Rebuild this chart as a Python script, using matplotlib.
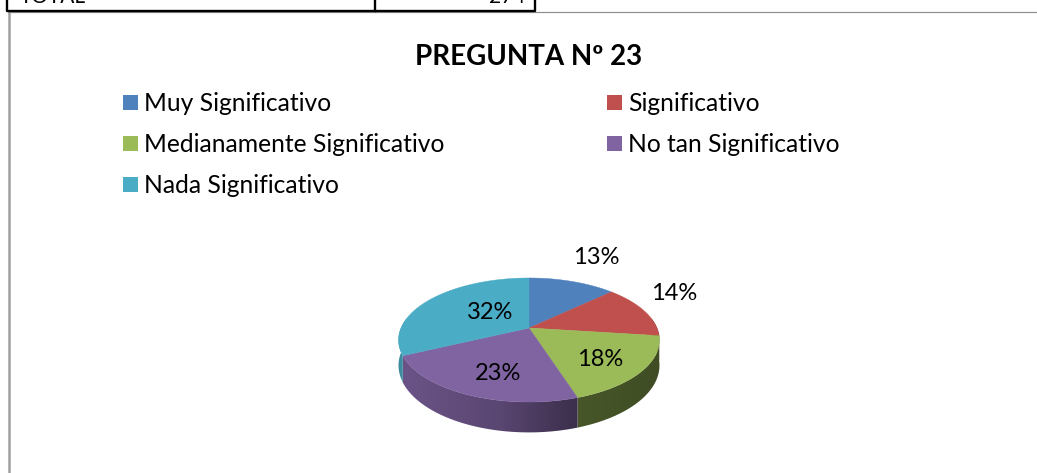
#!/usr/bin/env python3
"""Pregunta 23: torta en pseudo 3D, con perspectiva y pared lateral."""

import numpy as np

import matplotlib
matplotlib.use("Agg")
import matplotlib.pyplot as plt
from matplotlib.colors import to_rgb
from matplotlib.patches import Polygon, Rectangle

plt.rcParams["font.family"] = ["Lato", "DejaVu Sans"]

TITLE = "PREGUNTA Nº 23"
categories = ["Muy Significativo", "Significativo", "Medianamente Significativo",
              "No tan Significativo", "Nada Significativo"]
percents = [13, 14, 18, 23, 32]
colors = ["#4f81bd", "#c0504d", "#9bbb59", "#8064a2", "#4bacc6"]

# posiciones en pixeles de la imagen
label_pos = [(596, 257.5), (674, 293.5), (600, 359.5), (498, 373.5), (490, 312.5)]
legend_pos = [(123, 102.5), (607, 102.5), (123, 143.5), (607, 143.5), (123, 184.5)]

# modelo de la perspectiva
CX, CY = 529, 328
B, A, P = 128.0, 59.7, 0.1935
DEPTH = 24.5


def rim(theta, drop=0.0):
    """Borde de la torta; theta en radianes, horario desde arriba."""
    w = 1 + P * np.cos(theta)
    x = CX + B * np.sin(theta) / w
    y = CY - A * np.cos(theta) / w + drop / w
    return x, y


fig = plt.figure(figsize=(10.37, 4.73), dpi=100)
ax = fig.add_axes([0, 0, 1, 1])
ax.set_xlim(0, 1037)
ax.set_ylim(473, 0)
ax.axis("off")

# marco de la hoja y resto de la tabla
ax.plot([8.7, 8.7], [473, 12], color="#a0a0a0", lw=1.8)
ax.plot([8, 1037], [12.5, 12.5], color="#909090", lw=0.9)
ax.plot([7, 7, 535, 535], [0, 11, 11, 0], color="black", lw=1.7)
ax.plot([375, 375], [0, 11], color="black", lw=1.7)
ax.text(20, -3, "TOTAL", fontsize=15, va="center", ha="left")
ax.text(525, -3, "274", fontsize=15, va="center", ha="right")

ax.text(529, 57, TITLE, fontsize=20, fontweight="bold", ha="center", va="center")

for (x, y), name, col in zip(legend_pos, categories, colors):
    ax.add_patch(Rectangle((x, y - 7.5), 15, 15, facecolor=col, edgecolor="none"))
    ax.text(x + 21, y + 0.5, name, fontsize=17.7, ha="left", va="center")

edges = 2 * np.pi * np.cumsum([0] + percents) / sum(percents)

# pared lateral: degradado horizontal recortado a cada tramo
shade_x = np.arange(395, 665)
shade = np.interp(shade_x, [398, 404, 500, 579, 660], [0.80, 0.83, 0.70, 0.46, 0.41])
for start, end, col in zip(edges[:-1], edges[1:], colors):
    lo, hi = max(start, np.pi * 0.45), min(end, np.pi * 1.55)
    if hi <= lo:
        continue
    t = np.linspace(lo, hi, 120)
    x_top, y_top = rim(t)
    x_bot, y_bot = rim(t, DEPTH)
    pts = np.column_stack([np.r_[x_top, x_bot[::-1]], np.r_[y_top, y_bot[::-1]]])
    wall = Polygon(pts, closed=True, transform=ax.transData, facecolor="none", edgecolor="none")
    ax.add_patch(wall)
    grad = shade[None, :, None] * np.array(to_rgb(col))[None, None, :]
    im = ax.imshow(grad, extent=[shade_x[0], shade_x[-1], 440, 270], aspect="auto",
                   interpolation="bilinear", zorder=1)
    im.set_clip_path(wall)
ax.set_xlim(0, 1037)
ax.set_ylim(473, 0)

# cara superior
for start, end, col in zip(edges[:-1], edges[1:], colors):
    t = np.linspace(start, end, 80)
    xs, ys = rim(t)
    pts = np.column_stack([np.r_[CX, xs], np.r_[CY, ys]])
    ax.add_patch(Polygon(pts, closed=True, facecolor=col, edgecolor=col, lw=0.3, zorder=2))

for (x, y), pct in zip(label_pos, percents):
    ax.text(x, y, f"{pct}%", fontsize=17, ha="center", va="center", zorder=3)

fig.savefig("out.png", dpi=100)
